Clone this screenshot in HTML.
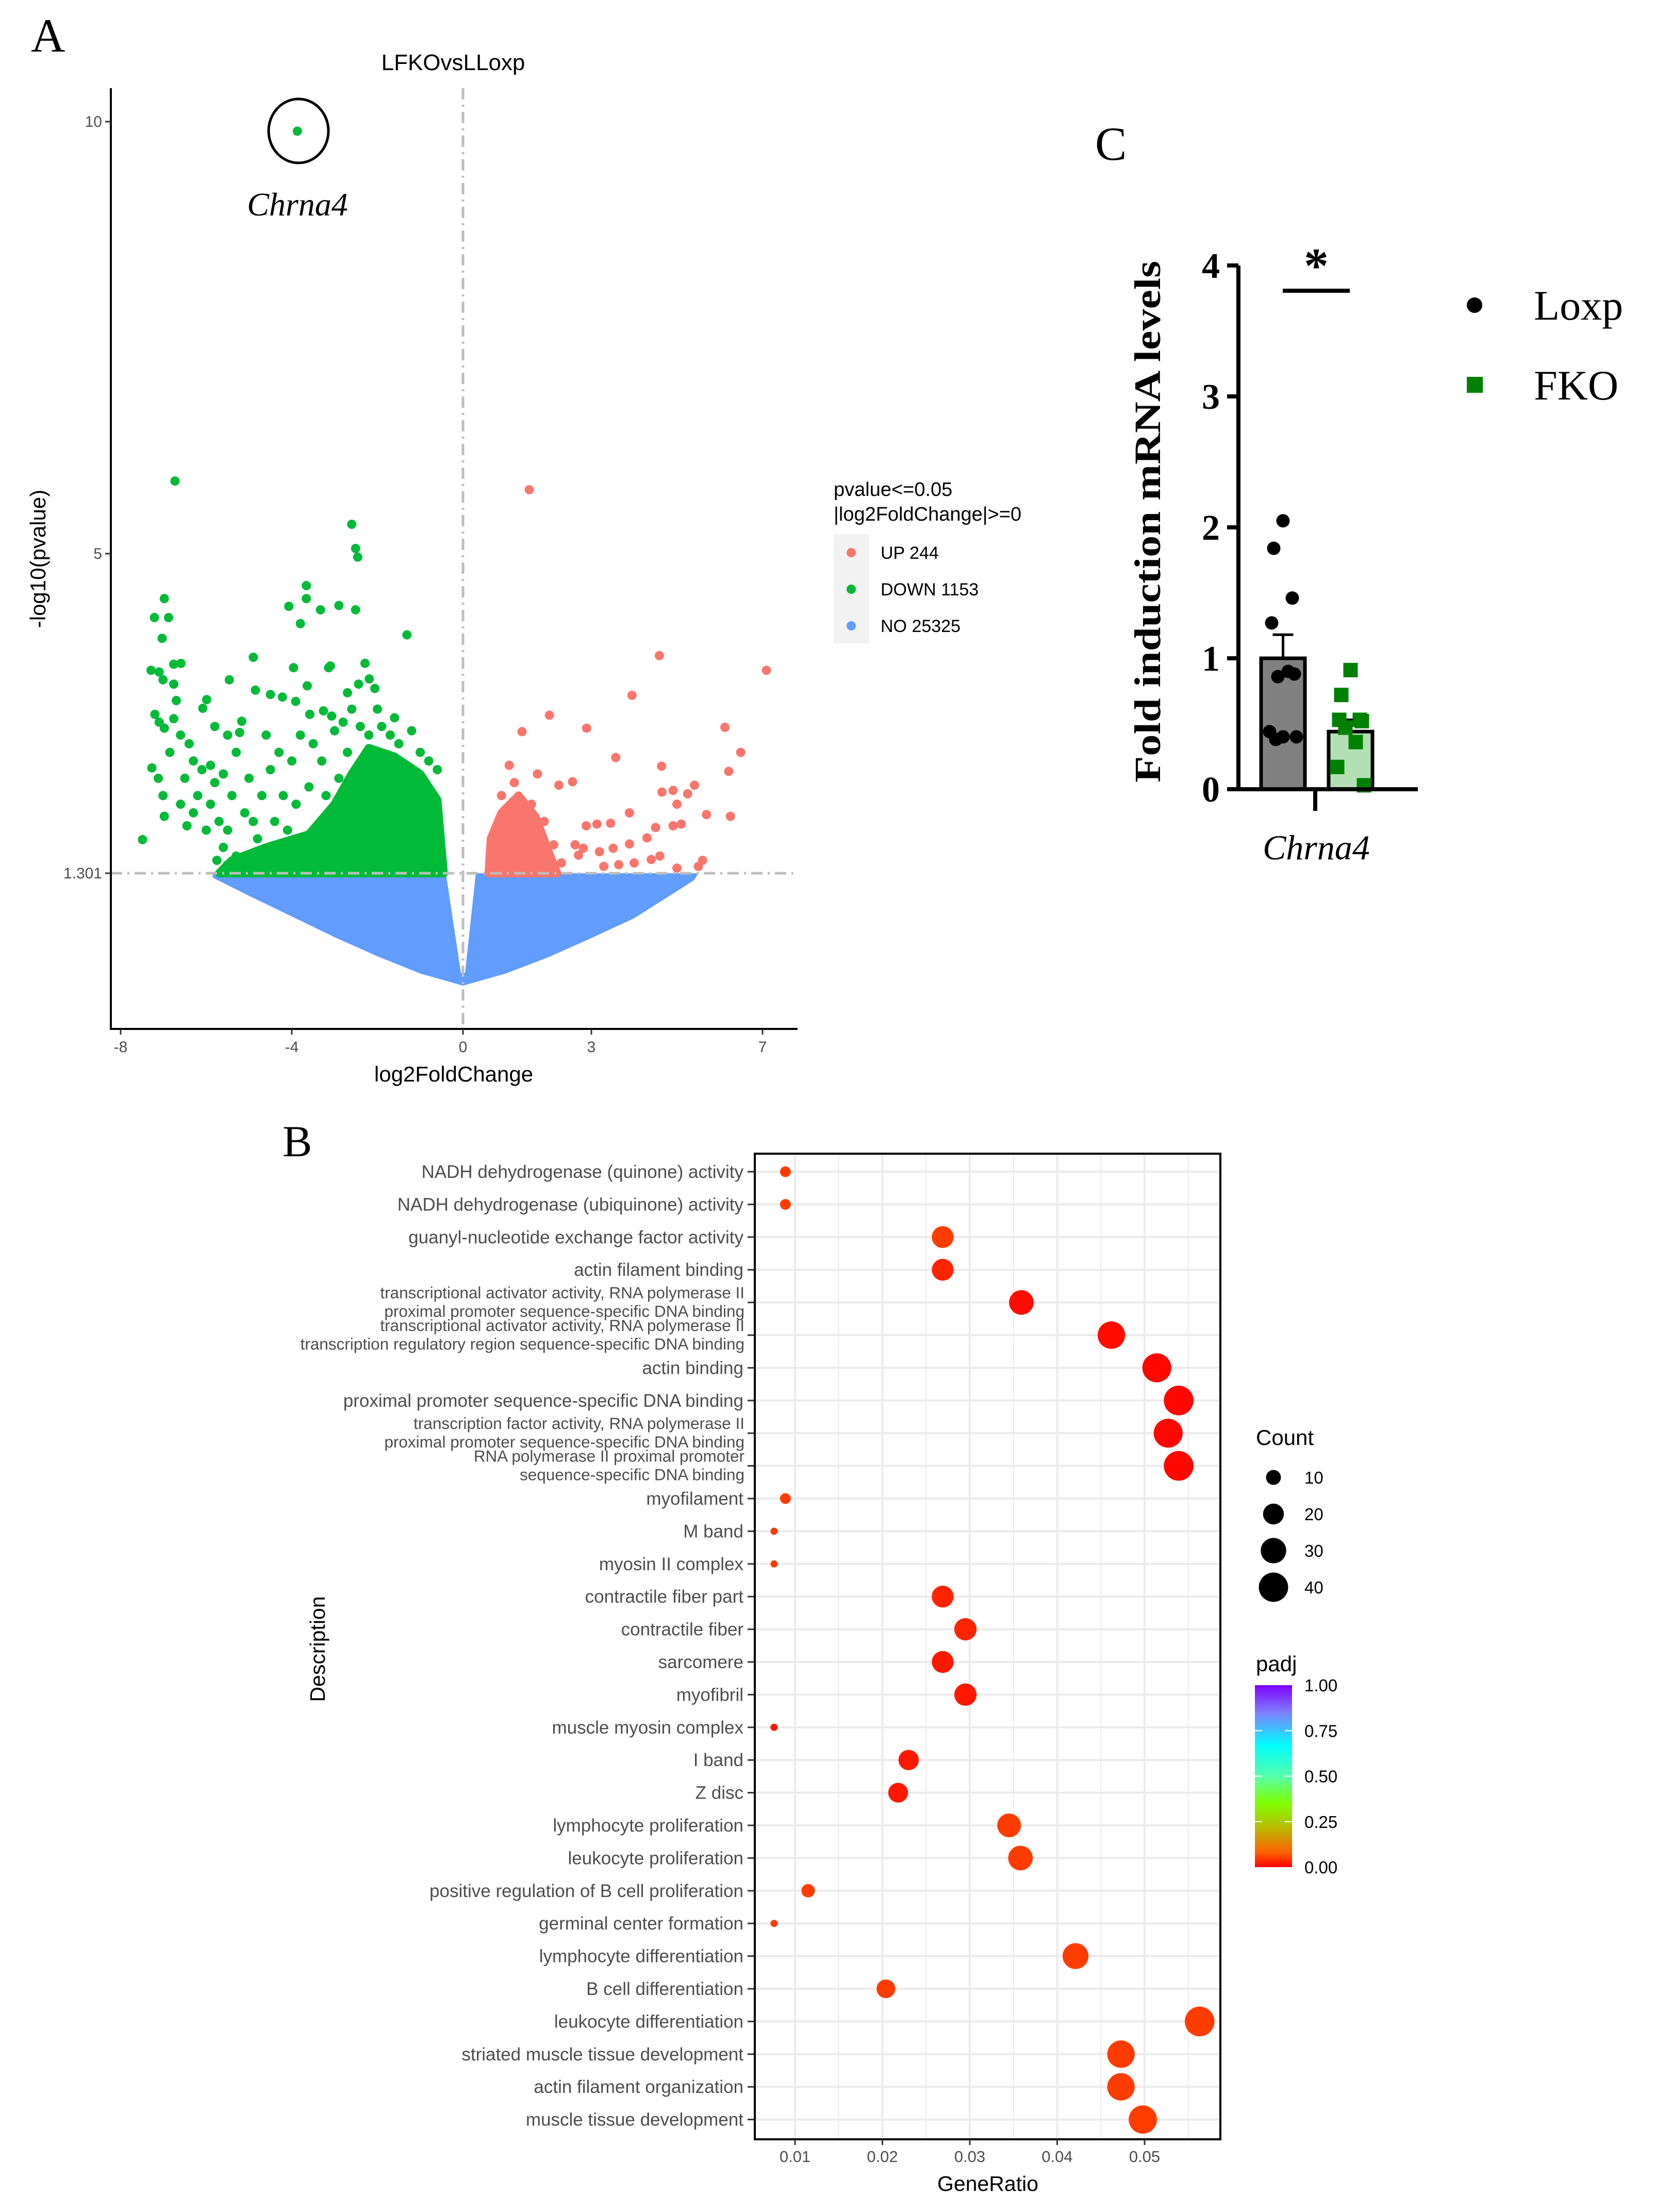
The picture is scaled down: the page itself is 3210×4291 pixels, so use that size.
<!DOCTYPE html>
<html><head><meta charset="utf-8"><style>
html,body{margin:0;padding:0;background:#fff}
svg{display:block}
text{font-family:"Liberation Sans",Arial,sans-serif}
.serif{font-family:"Liberation Serif","Times New Roman",serif}
</style></head><body>
<svg id="fig" xmlns="http://www.w3.org/2000/svg" width="3210" height="4291" viewBox="0 0 3210 4291">
<rect width="3210" height="4291" fill="#fff"/>
<g id="panelA"></g>
<g id="panelB"></g>
<g id="panelC"></g>
</svg>
<script>
// ---------- Panel A data ----------
const greenPts = [[-3.87,9.89],[-6.73,5.84],[-2.60,5.34],[-2.51,5.06],[-2.46,4.96],[-3.66,4.63],[-4.07,4.39],[-3.66,4.48],[-3.33,4.35],[-2.90,4.40],[-2.51,4.35],[-3.80,4.19],[-1.31,4.06],[-6.98,4.48],[-7.21,4.26],[-6.88,4.26],[-7.03,4.02],[-4.90,3.80],[-6.59,3.73],[-6.76,3.72],[-7.29,3.65],[-7.10,3.63],[-7.01,3.54],[-6.76,3.49],[-3.96,3.68],[-3.14,3.68],[-3.10,3.70],[-2.29,3.73],[-5.46,3.54],[-4.85,3.42],[-4.50,3.37],[-4.22,3.34],[-3.91,3.29],[-3.64,3.47],[-2.70,3.39],[-2.44,3.49],[-2.19,3.55],[-2.06,3.44],[-7.2,3.14],[-7.1,3.05],[-6.76,3.09],[-6.98,2.98],[-5.99,3.31],[-6.08,3.21],[-3.58,3.14],[-3.26,3.18],[-3.07,3.12],[-5.17,3.06],[-5.22,2.93],[-7.49,1.69],[-7.27,2.52],[-7.12,2.40],[-7.01,2.2],[-6.98,1.96],[-6.6,2.9],[-6.4,2.8],[-6.3,2.6],[-6.1,2.5],[-5.8,2.35],[-6.5,2.4],[-6.2,2.2],[-5.9,2.1],[-5.7,1.9],[-5.5,1.8],[-6.3,2.0],[-6.0,1.8],[-5.6,1.6],[-5.3,1.5],[-5.9,2.55],[-5.6,2.45],[-5.4,2.2],[-5.1,2.0],[-4.9,1.9],[-4.7,2.2],[-4.5,2.5],[-4.3,2.7],[-4.6,2.9],[-4.0,2.6],[-3.8,2.9],[-3.5,2.8],[-3.3,2.6],[-3.0,2.95],[-2.8,3.05],[-2.6,3.2],[-2.4,3.0],[-2.2,2.9],[-1.9,3.0],[-1.7,2.9],[-1.5,2.8],[-1.2,2.95],[-1.0,2.7],[-0.8,2.6],[-0.6,2.5],[-4.2,2.2],[-3.9,2.1],[-3.6,2.3],[-3.2,2.2],[-4.4,1.9],[-5.0,2.4],[-5.3,2.7],[-5.5,2.9],[-4.8,1.7],[-4.1,1.8],[-6.7,3.3],[-6.85,2.7],[-5.8,3.0],[-5.75,1.45],[-5.5,1.4],[-6.6,2.1],[-6.45,1.85],[-4.6,1.45],[-3.9,1.5],[-3.3,1.9],[-2.9,2.4],[-2.7,2.7],[-2.0,3.2],[-1.6,3.1],[-0.7,2.2]];
const greenCore = [[-5.7,1.301],[-5.4,1.45],[-4.6,1.6],[-3.6,1.75],[-3.0,2.1],[-2.6,2.45],[-2.2,2.75],[-1.6,2.65],[-1.0,2.45],[-0.6,2.15],[-0.45,1.301]];
const redPts = [[1.55,5.74],[4.59,3.82],[7.09,3.65],[3.95,3.36],[2.02,3.13],[1.38,2.94],[2.89,2.98],[6.12,2.99],[6.49,2.70],[1.08,2.55],[3.57,2.64],[4.64,2.54],[6.21,2.48],[1.74,2.45],[2.56,2.36],[2.24,2.32],[4.65,2.24],[4.91,2.26],[5.41,2.32],[5.25,2.22],[5.0,2.1],[5.69,1.98],[6.25,1.96],[3.89,2.0],[3.45,1.88],[3.13,1.87],[2.88,1.85],[4.5,1.83],[5.1,1.87],[4.91,1.85],[4.3,1.71],[3.89,1.64],[3.51,1.59],[3.19,1.55],[2.81,1.59],[2.62,1.63],[2.30,1.42],[1.99,1.51],[2.12,1.63],[5.0,1.36],[5.6,1.45],[5.5,1.38],[4.6,1.50],[4.4,1.46],[4.0,1.42],[3.64,1.40],[3.29,1.38],[2.7,1.51],[1.6,2.1],[1.9,1.9],[0.9,2.2],[1.2,2.35]];
const redCore = [[0.6,1.301],[0.65,1.7],[0.9,2.0],[1.3,2.2],[1.7,1.95],[2.0,1.55],[2.2,1.301]];
const blueCloud = [[-5.85,1.301],[-0.4,1.301],[-0.05,0.15],[0.05,0.15],[0.3,1.301],[5.5,1.301],[5.4,1.22],[4.0,0.78],[3.0,0.55],[2.0,0.33],[1.0,0.14],[0.0,0.0],[-1.0,0.14],[-2.0,0.34],[-3.0,0.56],[-4.0,0.8],[-5.0,1.04],[-5.85,1.25]];
const xTicksA = [-8,-4,0,3,7];
const yTicksA = [10,5,1.301];
const legendA = [["UP 244","#f8766d"],["DOWN 1153","#00ba38"],["NO 25325","#619cff"]];

// ---------- Panel B data ----------
const goTerms = ["NADH dehydrogenase (quinone) activity","NADH dehydrogenase (ubiquinone) activity","guanyl-nucleotide exchange factor activity","actin filament binding","transcriptional activator activity, RNA polymerase II|proximal promoter sequence-specific DNA binding","transcriptional activator activity, RNA polymerase II|transcription regulatory region sequence-specific DNA binding","actin binding","proximal promoter sequence-specific DNA binding","transcription factor activity, RNA polymerase II|proximal promoter sequence-specific DNA binding","RNA polymerase II proximal promoter|sequence-specific DNA binding","myofilament","M band","myosin II complex","contractile fiber part","contractile fiber","sarcomere","myofibril","muscle myosin complex","I band","Z disc","lymphocyte proliferation","leukocyte proliferation","positive regulation of B cell proliferation","germinal center formation","lymphocyte differentiation","B cell differentiation","leukocyte differentiation","striated muscle tissue development","actin filament organization","muscle tissue development"];
const geneRatio = [0.0089,0.0089,0.0269,0.0269,0.0359,0.0462,0.0514,0.0539,0.0527,0.0539,0.0089,0.0076,0.0076,0.0269,0.0295,0.0269,0.0295,0.0076,0.0230,0.0218,0.0345,0.0358,0.0115,0.0076,0.0421,0.0204,0.0563,0.0473,0.0473,0.0498];
const goCount = [5,5,22,22,28,35,39,41,39,41,5,2,2,22,23,22,23,2,19,18,26,28,8,2,31,16,41,35,35,37];
const goPadj = [0.05,0.05,0.05,0.03,0.01,0.01,0.005,0.005,0.005,0.005,0.05,0.05,0.05,0.03,0.03,0.02,0.02,0.02,0.02,0.02,0.05,0.05,0.05,0.05,0.05,0.05,0.05,0.05,0.05,0.05];
const xTicksB = [0.01,0.02,0.03,0.04,0.05];
const sizeLegend = [10,20,30,40];
const padjTicks = [1.00,0.75,0.50,0.25,0.00];

// ---------- Panel C data ----------
const groups = ["Loxp","FKO"];
const barMeans = [1.0,0.44];
const barSEM = [0.18,0.09];
const loxpVals = [2.05,1.84,1.46,1.27,0.88,0.86,0.90,0.44,0.40,0.40,0.38];
const fkoVals = [0.91,0.72,0.53,0.53,0.52,0.47,0.36,0.17,0.03];
const yTicksC = [0,1,2,3,4];

const NS="http://www.w3.org/2000/svg";
function mk(parent, tag, attrs, txt){const e=document.createElementNS(NS,tag);for(const k in attrs)e.setAttribute(k,attrs[k]);if(txt!==undefined)e.textContent=txt;parent.appendChild(e);return e;}

// ================= Panel A =================
(function(){
const g=document.getElementById('panelA');
const vx=v=>898+v*83, vy=v=>1912-v*167.6;
const AX0=215, AYB=1996, ATOP=171, AXR=1547;
let t=mk(g,'text',{x:60,y:100,'font-size':92,class:'serif'},'A');


t=mk(g,'text',{x:879,y:136,'font-size':44,'text-anchor':'middle'},'LFKOvsLLoxp');


let d=blueCloud.map((p,i)=>(i?'L':'M')+vx(p[0]).toFixed(1)+' '+vy(p[1]).toFixed(1)).join(' ')+'Z';
let e=mk(g,'path',{d:d,fill:'#619cff'});


d=greenCore.map((p,i)=>(i?'L':'M')+vx(p[0]).toFixed(1)+' '+vy(p[1]).toFixed(1)).join(' ')+'Z';
e=mk(g,'path',{d:d,fill:'#00ba38',stroke:'#00ba38','stroke-width':16,'stroke-linejoin':'round'});


d=redCore.map((p,i)=>(i?'L':'M')+vx(p[0]).toFixed(1)+' '+vy(p[1]).toFixed(1)).join(' ')+'Z';
e=mk(g,'path',{d:d,fill:'#f8766d',stroke:'#f8766d','stroke-width':16,'stroke-linejoin':'round'});


greenPts.forEach(p=>{const c=mk(g,'circle',{cx:vx(p[0]),cy:vy(p[1]),r:9,fill:'#00ba38'});

});
redPts.forEach(p=>{const c=mk(g,'circle',{cx:vx(p[0]),cy:vy(p[1]),r:9,fill:'#f8766d'});

});
e=mk(g,'line',{x1:vx(0),x2:vx(0),y1:ATOP,y2:AYB,stroke:'#bdbdbd','stroke-width':5,'stroke-dasharray':'22 10 4 10'});


e=mk(g,'line',{x1:AX0,x2:AXR,y1:vy(1.301),y2:vy(1.301),stroke:'#bdbdbd','stroke-width':5,'stroke-dasharray':'22 10 4 10'});


e=mk(g,'ellipse',{cx:579,cy:254,rx:58,ry:62,fill:'none',stroke:'#000','stroke-width':5});


e=mk(g,'text',{x:577,y:418,'font-size':64,'font-style':'italic','text-anchor':'middle',class:'serif'},'Chrna4');


e=mk(g,'path',{d:`M${AX0} ${ATOP} V${AYB} H${AXR}`,fill:'none',stroke:'#000','stroke-width':4});


xTicksA.forEach(v=>{mk(g,'line',{x1:vx(v),x2:vx(v),y1:AYB,y2:AYB+11,stroke:'#333','stroke-width':3});
const tt=mk(g,'text',{x:vx(v),y:AYB+45,'font-size':30,fill:'#4d4d4d','text-anchor':'middle'},String(v));

});
yTicksA.forEach(v=>{mk(g,'line',{x1:AX0-11,x2:AX0,y1:vy(v),y2:vy(v),stroke:'#333','stroke-width':3});
const tt=mk(g,'text',{x:198,y:vy(v)+10,'font-size':30,fill:'#4d4d4d','text-anchor':'end'},String(v));

});
e=mk(g,'text',{x:880,y:2098,'font-size':42,'text-anchor':'middle'},'log2FoldChange');


e=mk(g,'text',{x:0,y:0,'font-size':42,'text-anchor':'middle',transform:'translate(88 1084) rotate(-90)'},'-log10(pvalue)');


e=mk(g,'text',{x:1617,y:962,'font-size':38},'pvalue<=0.05');


mk(g,'text',{x:1617,y:1010,'font-size':38},'|log2FoldChange|>=0');
mk(g,'rect',{x:1617,y:1036,width:68,height:212,fill:'#f2f2f2'});
legendA.forEach((L,i)=>{const y=1072+i*71;
const c=mk(g,'circle',{cx:1651,cy:y,r:9,fill:L[1]});


const tt=mk(g,'text',{x:1708,y:y+12,'font-size':34},L[0]);

});
})();

// ================= Panel B =================
(function(){
const g=document.getElementById('panelB');
const L=1464,R=2367,T=2238,Bm=4150;
const bx=v=>1542+(v-0.01)*16950;
const rowY=i=>2273+i*63.4;
const rad=c=>Math.sqrt(9+20*c);
const stops=[[0,[255,0,0]],[0.08,[255,96,0]],[0.2,[192,176,0]],[0.35,[128,255,0]],[0.5,[85,255,170]],[0.67,[0,255,255]],[0.85,[127,127,255]],[1,[127,0,255]]];
function col(p){for(let i=1;i<stops.length;i++){if(p<=stops[i][0]){const a=stops[i-1],b=stops[i],t=(p-a[0])/(b[0]-a[0]);return 'rgb('+a[1].map((v,k)=>Math.round(v+(b[1][k]-v)*t)).join(',')+')';}}return 'rgb(127,0,255)';}
let t=mk(g,'text',{x:548,y:2243,'font-size':86,class:'serif'},'B');


const bg=mk(g,'rect',{x:L,y:T,width:R-L,height:Bm-T,fill:'#fff'});


for(let v=0.005;v<0.06;v+=0.005){const x=bx(v);if(x>L&&x<R){mk(g,'line',{x1:x,x2:x,y1:T,y2:Bm,stroke:'#ebebeb','stroke-width':Math.abs((v*100)%1)<0.01||Math.abs((v*100)%1-1)<0.01?4:2});}}
goTerms.forEach((n,i)=>{mk(g,'line',{x1:L,x2:R,y1:rowY(i),y2:rowY(i),stroke:'#ebebeb','stroke-width':4});});
goTerms.forEach((n,i)=>{const c=mk(g,'circle',{cx:bx(geneRatio[i]),cy:rowY(i),r:rad(goCount[i]),fill:col(goPadj[i])});

});
goTerms.forEach((n,i)=>{const y=rowY(i);mk(g,'line',{x1:1450,x2:L,y1:y,y2:y,stroke:'#333','stroke-width':3});
const parts=n.split('|');let tt;
if(parts.length===1){tt=mk(g,'text',{x:1442,y:y+12,'font-size':35,fill:'#4d4d4d','text-anchor':'end'},parts[0]);}
else{tt=mk(g,'text',{x:1444,y:y,'font-size':31.5,fill:'#4d4d4d','text-anchor':'end'});
mk(tt,'tspan',{x:1444,y:y-8},parts[0]);mk(tt,'tspan',{x:1444,y:y+28},parts[1]);}

});
const br=mk(g,'rect',{x:L,y:T,width:R-L,height:Bm-T,fill:'none',stroke:'#000','stroke-width':4});


xTicksB.forEach(v=>{mk(g,'line',{x1:bx(v),x2:bx(v),y1:Bm,y2:Bm+11,stroke:'#333','stroke-width':3});
const tt=mk(g,'text',{x:bx(v),y:Bm+44,'font-size':31,fill:'#4d4d4d','text-anchor':'middle'},v.toFixed(2));

});
t=mk(g,'text',{x:1916,y:4250,'font-size':41,'text-anchor':'middle'},'GeneRatio');


t=mk(g,'text',{x:0,y:0,'font-size':41,'text-anchor':'middle',transform:'translate(630 3199) rotate(-90)'},'Description');


t=mk(g,'text',{x:2436,y:2803,'font-size':42},'Count');


sizeLegend.forEach((c,i)=>{const y=2866+i*71;
const d=mk(g,'circle',{cx:2470,cy:y,r:rad(c),fill:'#000'});


const tt=mk(g,'text',{x:2530,y:y+12,'font-size':33},String(c));

});
t=mk(g,'text',{x:2436,y:3242,'font-size':42},'padj');


const defs=mk(g,'defs',{});const lg=mk(defs,'linearGradient',{id:'rb',x1:0,y1:1,x2:0,y2:0});
stops.forEach(s=>mk(lg,'stop',{offset:s[0],'stop-color':'rgb('+s[1].join(',')+')'}));
const cb=mk(g,'rect',{x:2434,y:3269,width:72,height:353,fill:'url(#rb)'});


padjTicks.forEach(v=>{const y=3622-v*353;
if(v>0&&v<1){mk(g,'line',{x1:2434,x2:2448,y1:y,y2:y,stroke:'#fff','stroke-width':2});mk(g,'line',{x1:2492,x2:2506,y1:y,y2:y,stroke:'#fff','stroke-width':2});}
const tt=mk(g,'text',{x:2530,y:y+12,'font-size':33},v.toFixed(2));

});
})();

// ================= Panel C =================
(function(){
const g=document.getElementById('panelC');
const X0=2402, cy=v=>1531-v*254;
const barX=[2446,2577], bw=85;
let t=mk(g,'text',{x:2124,y:310,'font-size':92,class:'serif'},'C');


barMeans.forEach((m,i)=>{const r=mk(g,'rect',{x:barX[i],y:cy(m),width:bw,height:cy(0)-cy(m),fill:i?'#b3e0b3':'#808080',stroke:'#000','stroke-width':7});


const cx=barX[i]+bw/2;
const eb=mk(g,'path',{d:`M${cx} ${cy(m)} V${cy(m+barSEM[i])} M${cx-20} ${cy(m+barSEM[i])} H${cx+20}`,stroke:'#000','stroke-width':5,fill:'none'});

});
const off=[0,-18,18,-22,22,-10,10,-26,26,0,-14,14];
loxpVals.forEach((v,i)=>{const c=mk(g,'circle',{cx:barX[0]+bw/2+off[i%off.length],cy:cy(v),r:13,fill:'#000'});

});
fkoVals.forEach((v,i)=>{const s=mk(g,'rect',{x:barX[1]+bw/2+off[i%off.length]-14,y:cy(v)-14,width:28,height:28,fill:'#008000'});

});
const ax=mk(g,'path',{d:`M${X0} ${cy(4)} V${cy(0)} H2750 M2551 ${cy(0)} V1573`,stroke:'#000','stroke-width':8,fill:'none'});


yTicksC.forEach(v=>{mk(g,'line',{x1:X0-22,x2:X0,y1:cy(v),y2:cy(v),stroke:'#000','stroke-width':8});
const tt=mk(g,'text',{x:X0-36,y:cy(v)+24,'font-size':70,'font-weight':'bold','text-anchor':'end',class:'serif'},String(v));

});
t=mk(g,'text',{x:0,y:0,'font-size':72,'font-weight':'bold','text-anchor':'middle',class:'serif',textLength:1012,lengthAdjust:'spacingAndGlyphs',transform:'translate(2250 1012) rotate(-90)'},'Fold induction mRNA levels');


t=mk(g,'text',{x:2553,y:1667,'font-size':68,'font-style':'italic','text-anchor':'middle',class:'serif'},'Chrna4');


const sl=mk(g,'line',{x1:2488,x2:2618,y1:564,y2:564,stroke:'#000','stroke-width':8});


t=mk(g,'text',{x:2553,y:548,'font-size':96,'font-weight':'bold','text-anchor':'middle',class:'serif'},'*');


let m=mk(g,'circle',{cx:2860,cy:592,r:15,fill:'#000'});


t=mk(g,'text',{x:2975,y:620,'font-size':82,class:'serif'},'Loxp');


m=mk(g,'rect',{x:2845,y:731,width:31,height:31,fill:'#008000'});


t=mk(g,'text',{x:2975,y:775,'font-size':82,class:'serif'},'FKO');


})();
</script>
</body></html>
